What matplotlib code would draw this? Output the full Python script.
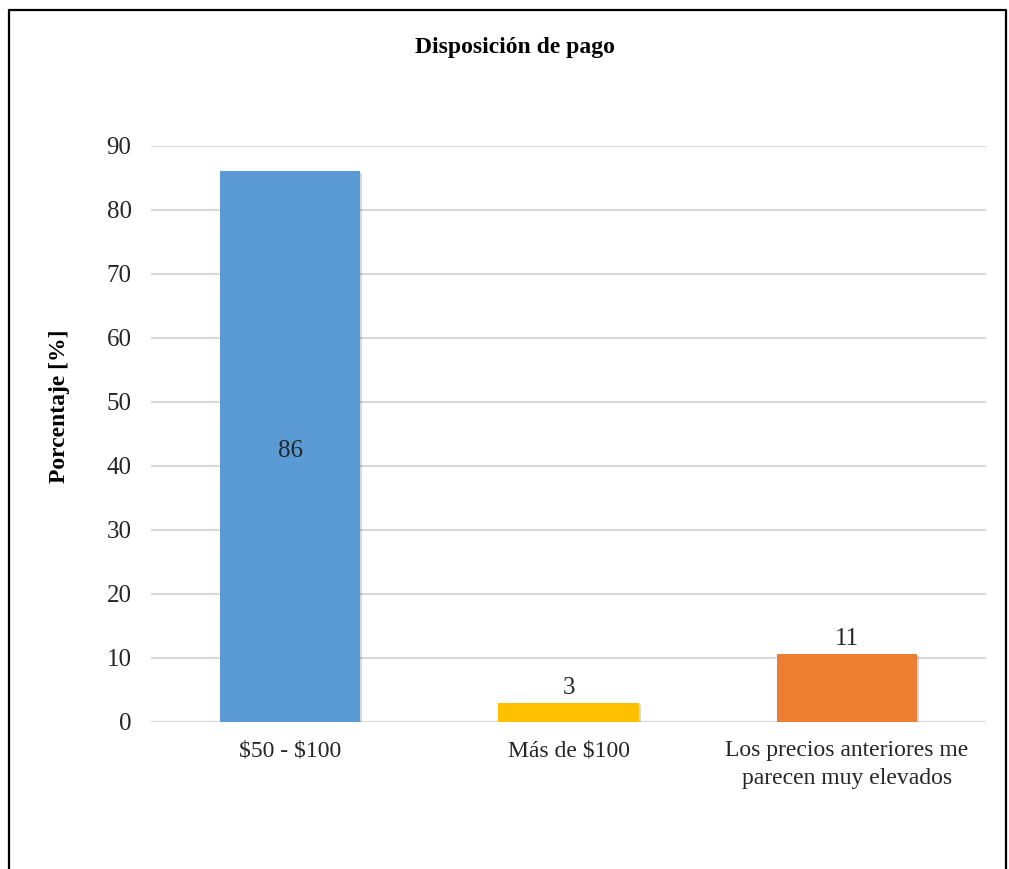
import matplotlib
matplotlib.use("Agg")
import matplotlib.pyplot as plt
from matplotlib.lines import Line2D
import matplotlib.patheffects as pe

categories = ["$50 - $100", "Más de $100", "Los precios anteriores me\nparecen muy elevados"]
values = [86.1, 3.0, 10.7]
colors = ["#5B9BD5", "#FFC000", "#ED7D31"]
yticks = [0, 10, 20, 30, 40, 50, 60, 70, 80, 90]

plt.rcParams['font.family'] = ['Liberation Serif', 'DejaVu Serif']
plt.rcParams['text.parse_math'] = False

W, H = 1009, 869
fig = plt.figure(figsize=(W / 100, H / 100), dpi=100)

ax = fig.add_axes([151 / W, 1 - 722 / H, (986 - 151) / W, (722 - 146) / H])
x = list(range(len(categories)))
bars = ax.bar(x, values, width=0.503, color=colors, zorder=3)
for b in bars:
    b.set_path_effects([pe.SimplePatchShadow(offset=(1.5, -1.5), shadow_rgbFace='black', alpha=0.15), pe.Normal()])

ax.set_xlim(-0.5, 2.5)
ax.set_ylim(0, 90)
ax.set_yticks(yticks)
ax.set_xticks(x)
ax.set_xticklabels(categories, fontsize=17, color="#262626", linespacing=1.45)
ax.tick_params(axis='y', labelsize=18, colors="#262626", length=0, pad=14)
ax.tick_params(axis='x', length=0, pad=13)
ax.grid(axis='y', color="#D9D9D9", linewidth=1.6, zorder=0)
for s in ax.spines.values():
    s.set_visible(False)

for i, (b, v) in enumerate(zip(bars, values)):
    if i == 0:
        ax.text(b.get_x() + b.get_width() / 2, v / 2 - 0.7, f"{v:.0f}", ha='center', va='center',
                fontsize=18, color="#262626", zorder=4)
    else:
        ax.text(b.get_x() + b.get_width() / 2, v + 0.55, f"{v:.0f}", ha='center', va='bottom',
                fontsize=18, color="#262626", zorder=4)

fig.text(515 / W, 1 - 47 / H, "Disposición de pago", ha='center', va='center',
         fontsize=17, fontweight='bold', color='black')
fig.text(60 / W, 1 - 406 / H, "Porcentaje [%]", ha='center', va='center', rotation=90,
         fontsize=17, fontweight='bold', color='black')

# outer frame (left, top, right)
fx = [9 / W, 9 / W, 1006 / W, 1006 / W]
fy = [0, 1 - 10 / H, 1 - 10 / H, 0]
fig.add_artist(Line2D(fx, fy, color='black', linewidth=1.6, transform=fig.transFigure))

fig.savefig("out.png", dpi=100)
